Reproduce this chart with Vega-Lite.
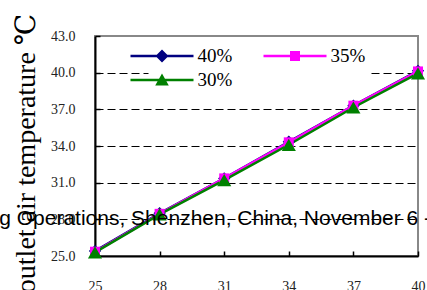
{
  "$schema": "https://vega.github.io/schema/vega-lite/v6.json",
  "width": 323,
  "height": 220,
  "autosize": {"type": "none"},
  "padding": {"left": 95, "top": 36, "right": 9, "bottom": 34},
  "background": "white",
  "view": {"stroke": "#888888", "strokeWidth": 2},
  "datasets": {
    "main": [
      {"T": 25, "temp": 25.4, "series": "40%"},
      {"T": 28, "temp": 28.5, "series": "40%"},
      {"T": 31, "temp": 31.35, "series": "40%"},
      {"T": 34, "temp": 34.35, "series": "40%"},
      {"T": 37, "temp": 37.3, "series": "40%"},
      {"T": 40, "temp": 40.15, "series": "40%"},
      {"T": 25, "temp": 25.35, "series": "35%"},
      {"T": 28, "temp": 28.45, "series": "35%"},
      {"T": 31, "temp": 31.35, "series": "35%"},
      {"T": 34, "temp": 34.3, "series": "35%"},
      {"T": 37, "temp": 37.3, "series": "35%"},
      {"T": 40, "temp": 40.1, "series": "35%"},
      {"T": 25, "temp": 25.3, "series": "30%"},
      {"T": 28, "temp": 28.4, "series": "30%"},
      {"T": 31, "temp": 31.2, "series": "30%"},
      {"T": 34, "temp": 34.1, "series": "30%"},
      {"T": 37, "temp": 37.15, "series": "30%"},
      {"T": 40, "temp": 39.95, "series": "30%"}
    ],
    "note": [
      {"T": 20.55, "temp": 27.5, "text": "g Operations, Shenzhen, China, November 6 -"}
    ]
  },
  "encoding": {
    "x": {
      "field": "T", "type": "quantitative",
      "scale": {"domain": [25, 40], "nice": false, "zero": false},
      "axis": {
        "title": null, "values": [25, 28, 31, 34, 37, 40], "grid": false,
        "domainColor": "black", "domainWidth": 2,
        "tickColor": "black", "tickSize": -5, "tickWidth": 1.5,
        "labelFont": "Liberation Serif, Times New Roman, DejaVu Serif, serif", "labelFontSize": 14, "labelColor": "#222222",
        "labelPadding": 28, "labelBaseline": "top", "labelFlush": false
      }
    },
    "y": {
      "field": "temp", "type": "quantitative",
      "scale": {"domain": [25, 43], "nice": false, "zero": false},
      "axis": {
        "title": "outlet air temperature ℃",
        "titleFont": "Liberation Serif, Times New Roman, DejaVu Serif, serif", "titleFontSize": 28, "titleFontWeight": "normal",
        "titleColor": "black", "titleAngle": -90, "titleBaseline": "middle", "titleAlign": "center",
        "titleX": -69, "titleY": 117,
        "values": [25, 28, 31, 34, 37, 40, 43], "format": ".1f",
        "grid": true, "gridDash": [8, 4], "gridWidth": 1,
        "gridColor": {"condition": {"test": "datum.value === 43 || datum.value === 25", "value": "transparent"}, "value": "black"},
        "domainColor": "black", "domainWidth": 2,
        "tickColor": "black", "tickSize": -5, "tickWidth": 1.5,
        "labelFont": "Liberation Serif, Times New Roman, DejaVu Serif, serif", "labelFontSize": 14, "labelColor": "#222222",
        "labelPadding": 25, "labelFlush": false
      }
    }
  },
  "layer": [
    {
      "data": {"name": "main"},
      "mark": {"type": "line", "strokeWidth": 2.5},
      "encoding": {
        "color": {
          "field": "series", "type": "nominal",
          "scale": {"domain": ["40%", "35%", "30%"], "range": ["#000080", "#FF00FF", "#008000"]},
          "legend": {
            "title": null, "orient": "none", "legendX": 53, "legendY": 6,
            "direction": "horizontal", "columns": 2, "columnPadding": 30, "rowPadding": 4,
            "padding": 4, "fillColor": "white", "strokeColor": "transparent",
            "labelFont": "Liberation Serif, Times New Roman, DejaVu Serif, serif", "labelFontSize": 19, "labelColor": "black",
            "labelOffset": 25.5, "symbolSize": 400, "symbolStrokeWidth": 0,
            "encode": {
              "symbols": {
                "update": {
                  "shape": {"signal": "datum.value === '40%' ? 'M-3.15,-0.125H3.15V0.125H-3.15Z M0,-0.65L0.65,0L0,0.65L-0.65,0Z' : datum.value === '35%' ? 'M-3.15,-0.125H3.15V0.125H-3.15Z M-0.5,-0.5H0.5V0.5H-0.5Z' : 'M-3.15,-0.125H3.15V0.125H-3.15Z M0,-0.65L0.68,0.55L-0.68,0.55Z'"},
                  "fill": {"scale": "color", "field": "value"},
                  "stroke": {"value": "transparent"},
                  "strokeWidth": {"value": 0},
                  "opacity": {"value": 1}
                }
              }
            }
          }
        }
      }
    },
    {
      "data": {"name": "main"},
      "transform": [{"filter": "datum.series === '40%'"}],
      "mark": {"type": "point", "filled": true, "opacity": 1, "shape": "diamond", "size": 150, "color": "#000080"},
      "encoding": {}
    },
    {
      "data": {"name": "main"},
      "transform": [{"filter": "datum.series === '35%'"}],
      "mark": {"type": "point", "filled": true, "opacity": 1, "shape": "square", "size": 100, "color": "#FF00FF"},
      "encoding": {}
    },
    {
      "data": {"name": "main"},
      "transform": [{"filter": "datum.series === '30%'"}],
      "mark": {"type": "point", "filled": true, "opacity": 1, "shape": "triangle-up", "size": 200, "color": "#008000"},
      "encoding": {}
    },
    {
      "data": {"name": "note"},
      "mark": {"type": "text", "align": "left", "baseline": "alphabetic", "font": "Liberation Sans", "fontSize": 21, "color": "black"},
      "encoding": {
        "text": {"field": "text"}
      }
    }
  ]
}
